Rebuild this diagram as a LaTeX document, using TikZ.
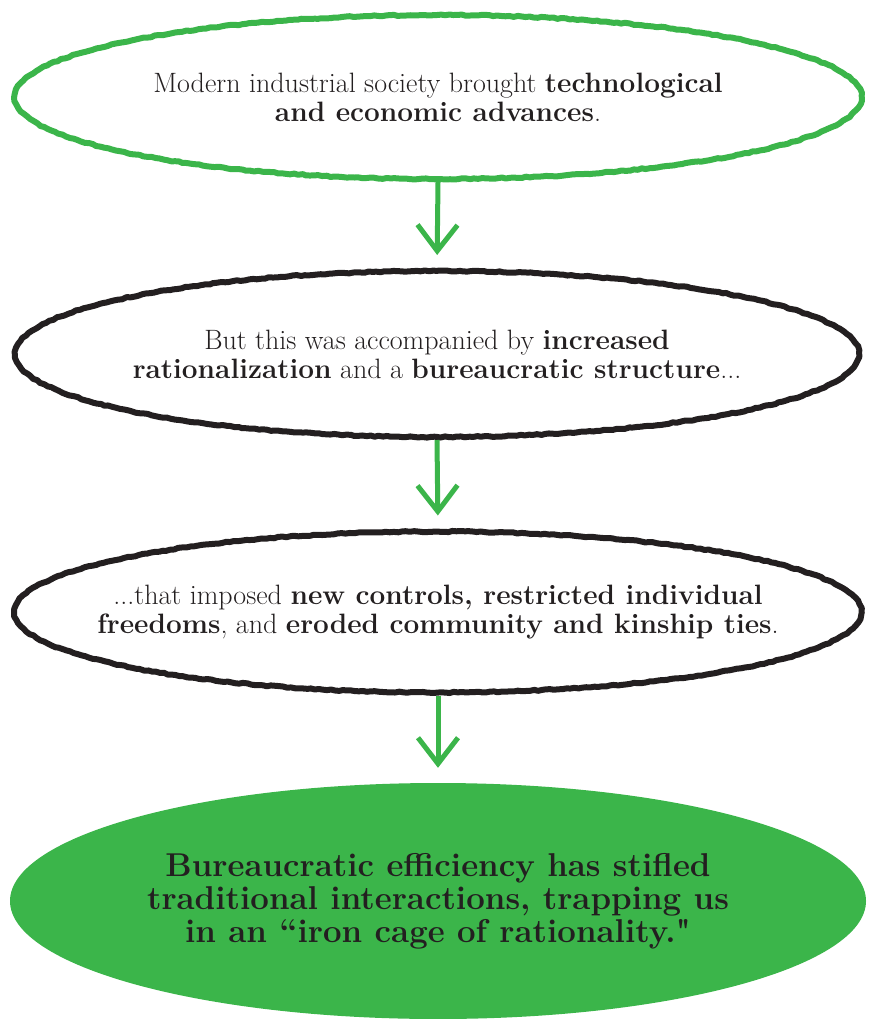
\documentclass[tikz,border=0pt]{standalone}
\usetikzlibrary{shapes.geometric,arrows.meta,decorations.pathmorphing}
\definecolor{cgreen}{RGB}{59,181,74}
\definecolor{cdark}{RGB}{35,31,32}
\tikzset{
  bubble/.style={ellipse, inner sep=0pt, line width=6pt, line join=round,
    decorate, decoration={random steps, segment length=4pt, amplitude=0.6pt}},
  greenbubble/.style={bubble, draw=cgreen},
  blackbubble/.style={bubble, draw=cdark},
  bubbletext/.style={align=center, inner sep=0pt, text=cdark,
    font=\fontsize{28}{29}\selectfont},
  finalbubble/.style={ellipse, inner sep=0pt, fill=cgreen},
  finaltext/.style={align=center, inner sep=0pt, text=cdark,
    font=\fontsize{33}{33}\selectfont\bfseries},
  flow/.style={draw=cgreen, line width=5pt,
    -{Straight Barb[length=26pt,width=40pt,line width=5pt]}},
}
\begin{document}
\begin{tikzpicture}[x=1pt,y=-1pt]
\useasboundingbox (0,0) rectangle (873,1019);
\node[greenbubble, minimum width=847pt, minimum height=164pt] (e1) at (438,97) {};
\node[bubbletext] (t1) at (e1.center)
  {Modern industrial society brought \textbf{technological}\\
   \textbf{and economic advances}.};
\node[blackbubble, minimum width=844pt, minimum height=166pt] (e2) at (437,354) {};
\node[bubbletext] (t2) at (e2.center)
  {But this was accompanied by \textbf{increased}\\
   \textbf{rationalization} and a \textbf{bureaucratic structure}...};
\node[blackbubble, minimum width=847pt, minimum height=161pt] (e3) at (438,612) {};
\node[bubbletext] (t3) at (e3.center)
  {...that imposed \textbf{new controls, restricted individual}\\
   \textbf{freedoms}, and \textbf{eroded community and kinship ties}.};
\node[finalbubble, minimum width=856pt, minimum height=236pt] (e4) at (438,901) {};
\node[finaltext] (t4) at (e4.center)
  {Bureaucratic efficiency has stifled\\
   traditional interactions, trapping us\\
   in an ``iron cage of rationality.\textquotedbl};
\draw[flow, shorten >=13pt] (e1.south) -- (e2.north);
\draw[flow, shorten >=13pt] (e2.south) -- (e3.north);
\draw[flow, shorten >=15pt] (e3.south) -- (e4.north);
\end{tikzpicture}
\end{document}
